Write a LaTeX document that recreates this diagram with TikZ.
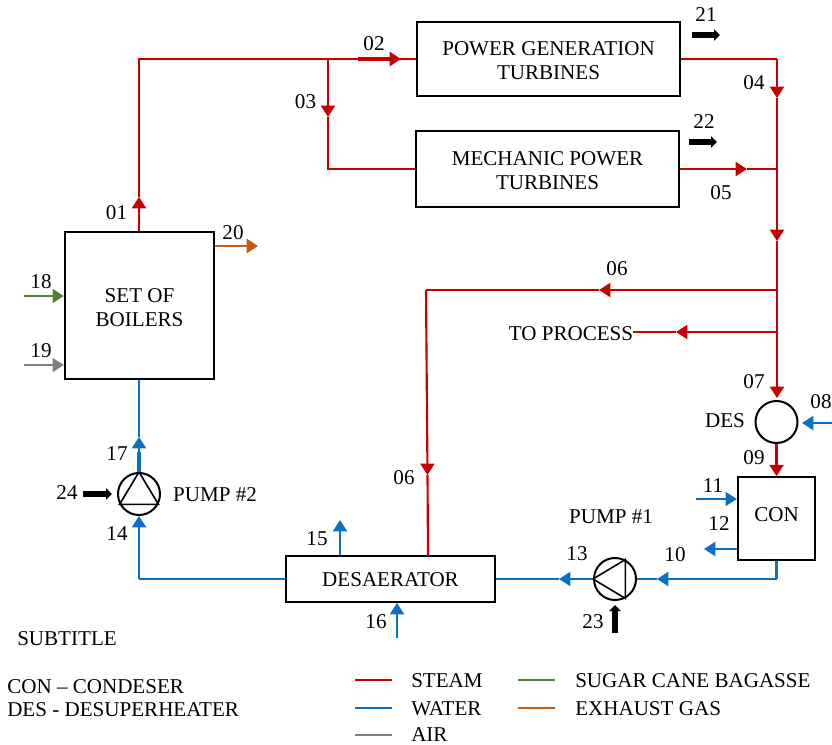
\documentclass[tikz,border=0pt]{standalone}
\usepackage{fontspec}
\setmainfont{Liberation Serif}
\usetikzlibrary{arrows.meta}
\definecolor{steamred}{HTML}{C80000}
\definecolor{waterblue}{HTML}{0B70C4}
\definecolor{bagassegreen}{HTML}{548235}
\definecolor{gasorange}{HTML}{C55A11}
\definecolor{airgrey}{HTML}{7F7F7F}
\tikzset{
    lbl/.style={font=\fontsize{15.8}{18}\selectfont, inner sep=0pt, yshift=-0.75pt, align=center},
    unitbox/.style={draw, line width=1.5pt, inner sep=0pt},
    unitcirc/.style={draw, circle, line width=1.5pt, minimum size=31.5pt, inner sep=0pt},
    steam/.style={draw=steamred, line width=1.6pt},
    water/.style={draw=waterblue, line width=1.6pt},
    bagasse/.style={draw=bagassegreen, line width=1.6pt},
    gas/.style={draw=gasorange, line width=1.6pt},
    air/.style={draw=airgrey, line width=1.6pt},
    power/.style={draw=black, line width=4pt, -{Triangle[width=8.5pt,length=4.5pt]}}
}
\begin{document}
\begin{tikzpicture}[x=0.75pt, y=-0.75pt, >={Triangle[width=10.5pt,length=8.5pt]}]
    \useasboundingbox (0,0) rectangle (832,745);

    %%draw the units
    \node[unitbox, minimum width=112pt, minimum height=110pt] (boilers) at (139.5,305.5) {};
    \node[lbl] (boilerstxt) at (139.5,307) {SET OF\\BOILERS};
    \node[unitbox, minimum width=197pt, minimum height=55pt] (pgt) at (548.5,59) {};
    \node[lbl] (pgttxt) at (548.5,60) {POWER GENERATION\\TURBINES};
    \node[unitbox, minimum width=197pt, minimum height=57pt] (mpt) at (547.5,169) {};
    \node[lbl] (mpttxt) at (547.5,170) {MECHANIC POWER\\TURBINES};
    \node[unitbox, minimum width=157pt, minimum height=34.5pt] (desaerator) at (390.5,579) {};
    \node[lbl] (desaeratortxt) at (390.5,578.5) {DESAERATOR};
    \node[unitbox, minimum width=58pt, minimum height=62pt] (con) at (776.5,518.5) {};
    \node[lbl] (contxt) at (776.5,513.5) {CON};
    \node[unitcirc] (des) at (776.5,422) {};
    \node[unitcirc] (pumpb) at (139,494) {};
    \node[unitcirc] (pumpa) at (615,579) {};

    %%pump triangles
    \draw[line width=1.2pt] (pumpb.north) -- (pumpb.-28) -- (pumpb.-152) -- cycle;
    \draw[line width=1.2pt] (pumpa.west) -- (pumpa.62) -- (pumpa.-62) -- cycle;

    %%steam lines
    \coordinate (t01) at (139,197);
    \coordinate (corner01) at (139,59);
    \coordinate (j03) at (328,59);
    \coordinate (s02) at (358,59);
    \coordinate (t02) at (401,59);
    \coordinate (t03) at (328,117);
    \coordinate (corner03) at (328,169);
    \draw[steam, ->] (boilers.north -| t01) -- (t01);
    \draw[steam] (t01) -- (corner01) -- (pgt.west);
    \draw[steam, line width=2.4pt, ->] (s02) -- (t02);
    \draw[steam, ->] (j03) -- (t03);
    \draw[steam] (t03) -- (corner03) -- (mpt.west);

    \coordinate (corner04) at (777,59);
    \coordinate (t04) at (777,98);
    \coordinate (t05) at (747,169);
    \coordinate (j05) at (777,169);
    \coordinate (t05b) at (777,241);
    \coordinate (j06) at (777,290);
    \coordinate (j07) at (777,332);
    \coordinate (t07) at (777,398);
    \draw[steam] (pgt.east) -- (corner04);
    \draw[steam, ->] (corner04) -- (t04);
    \draw[steam, ->] (mpt.east) -- (t05);
    \draw[steam] (t05) -- (j05);
    \draw[steam] (t04) -- (j05);
    \draw[steam, ->] (j05) -- (t05b);
    \draw[steam] (t05b) -- (j06) -- (j07);
    \draw[steam, ->] (j07) -- (t07);

    \coordinate (t06) at (599,290);
    \coordinate (corner06) at (426,290);
    \coordinate (t06b) at (427.5,475);
    \coordinate (e06) at (428,556);
    \draw[steam, ->] (j06) -- (t06);
    \draw[steam] (t06) -- (corner06);
    \draw[steam, ->] (corner06) -- (t06b);
    \draw[steam] (t06b) -- (e06);

    \coordinate (tproc) at (676,332);
    \draw[steam, ->] (j07) -- (tproc);

    %%water lines
    \coordinate (t17) at (139,437);
    \draw[water, ->] (pumpb.north) -- (t17);
    \draw[water, line width=2.4pt] (pumpb.north) -- ++(0,-20);
    \draw[water] (t17) -- (boilers.south -| t17);
    \coordinate (corner14) at (139,579);
    \draw[water] (desaerator.west) -- (corner14);
    \draw[water, ->] (corner14) -- (pumpb.south);
    \coordinate (t15) at (340,520);
    \draw[water, ->] (desaerator.north -| t15) -- (t15);
    \coordinate (s16) at (397,638);
    \draw[water, ->] (s16) -- (desaerator.south -| s16);
    \coordinate (corner10) at (776.5,579);
    \coordinate (t10) at (657,579);
    \coordinate (t13) at (559,579);
    \draw[water] (con.south) -- (corner10);
    \draw[water, ->] (corner10) -- (t10);
    \draw[water] (t10) -- (pumpa.east);
    \draw[water, ->] (pumpa.west) -- (t13);
    \draw[water] (t13) -- (desaerator.east);
    \coordinate (s11) at (696,499);
    \draw[water, ->] (s11) -- (con.west |- s11);
    \coordinate (t12) at (704,549);
    \draw[water, ->] (con.west |- t12) -- (t12);
    \coordinate (s08) at (832,423);
    \coordinate (t08) at (802,423);
    \draw[water, ->] (s08) -- (t08);
    \draw[steam, ->] (des.south) -- (con.north);

    %%fuel, air and exhaust
    \coordinate (s18) at (24,296);
    \coordinate (s19) at (24,365);
    \coordinate (t20) at (258,246);
    \draw[bagasse, ->] (s18) -- (boilers.west |- s18);
    \draw[air, ->] (s19) -- (boilers.west |- s19);
    \draw[gas, ->] (boilers.east |- t20) -- (t20);

    %%shaft power
    \coordinate (s21) at (692,35);
    \coordinate (t21) at (720,35);
    \coordinate (s22) at (689,142);
    \coordinate (t22) at (717,142);
    \coordinate (s24) at (83,494);
    \coordinate (t24) at (112,494);
    \coordinate (s23) at (615,633);
    \coordinate (t23) at (615,605);
    \draw[power] (s21) -- (t21);
    \draw[power] (s22) -- (t22);
    \draw[power] (s24) -- (t24);
    \draw[power] (s23) -- (t23);

    %%stream numbers
    \node[lbl] (l01) at (116.5,212) {01};
    \node[lbl] (l02) at (374,43) {02};
    \node[lbl] (l03) at (305.5,101) {03};
    \node[lbl] (l04) at (754,82) {04};
    \node[lbl] (l05) at (721,192) {05};
    \node[lbl] (l06a) at (617,268) {06};
    \node[lbl] (l06b) at (404,477) {06};
    \node[lbl] (l07) at (754,381) {07};
    \node[lbl] (l08) at (821,401) {08};
    \node[lbl] (l09) at (754,457) {09};
    \node[lbl] (l10) at (675,554) {10};
    \node[lbl] (l11) at (713,485) {11};
    \node[lbl] (l12) at (719,523) {12};
    \node[lbl] (l13) at (577,553) {13};
    \node[lbl] (l14) at (117,533) {14};
    \node[lbl] (l15) at (317,538) {15};
    \node[lbl] (l16) at (376,621) {16};
    \node[lbl] (l17) at (117,453) {17};
    \node[lbl] (l18) at (41,281) {18};
    \node[lbl] (l19) at (41,350) {19};
    \node[lbl] (l20) at (233,232) {20};
    \node[lbl] (l21) at (706,14) {21};
    \node[lbl] (l22) at (704,121) {22};
    \node[lbl] (l23) at (593,621) {23};
    \node[lbl] (l24) at (67,492) {24};

    %%names
    \node[lbl] (ldes) at (725,420) {DES};
    \node[lbl] (lpumpb) at (215,494) {PUMP \#2};
    \node[lbl] (lpumpa) at (611,516) {PUMP \#1};
    \node[lbl] (lproc) at (571,333) {TO PROCESS};
    \draw[steam] (tproc) -- (lproc.east |- tproc);

    %%subtitle
    \node[lbl, anchor=west] (subtitle) at (17,638) {SUBTITLE};
    \node[lbl, anchor=west] (lcon) at (7,686) {CON -- CONDESER};
    \node[lbl, anchor=west] (ldsh) at (7,709) {DES - DESUPERHEATER};

    %%legend
    \coordinate (kst) at (355,680);
    \coordinate (kwa) at (355,708);
    \coordinate (kai) at (355,735);
    \coordinate (kba) at (518,680);
    \coordinate (kga) at (518,708);
    \draw[steam] (kst) -- ++(37,0);
    \draw[water] (kwa) -- ++(37,0);
    \draw[air] (kai) -- ++(37,0);
    \draw[bagasse] (kba) -- ++(37,0);
    \draw[gas] (kga) -- ++(37,0);
    \node[lbl, anchor=west] (tst) at (411,680) {STEAM};
    \node[lbl, anchor=west] (twa) at (411,708) {WATER};
    \node[lbl, anchor=west] (tai) at (411,733.5) {AIR};
    \node[lbl, anchor=west] (tba) at (575,680) {SUGAR CANE BAGASSE};
    \node[lbl, anchor=west] (tga) at (575,708) {EXHAUST GAS};
\end{tikzpicture}
\end{document}
